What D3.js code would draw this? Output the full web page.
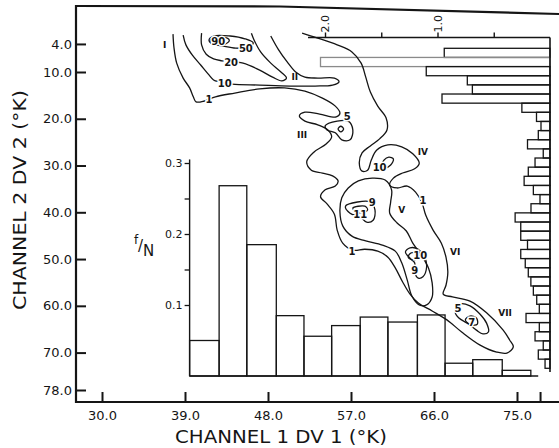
<!DOCTYPE html>
<html><head><meta charset="utf-8">
<script src="https://cdn.jsdelivr.net/npm/d3@7"></script>
<style>
body{margin:0;background:#fff}
svg{display:block}
text{font-family:"DejaVu Sans",sans-serif;fill:#151515}
</style></head><body>
<svg id="c" width="559" height="448"></svg>
<script>
// ---- axes (main panel: channel 1 DV1 vs channel 2 DV2, degrees K)
const xTicks=[30,39,48,57,66,75];
const xTickExtra=[77.5];
const yTicks=[4,10,20,30,40,50,60,70,78];

// ---- inset histogram: f/N of channel 1
const ch1BinEdges=[39.5,42.7,45.7,48.9,51.9,54.9,58.0,61.0,64.2,67.2,70.2,73.4,76.5];
const ch1Freq=[0.050,0.268,0.185,0.085,0.056,0.071,0.083,0.076,0.086,0.018,0.023,0.008];
const ch1FreqTicks=[0.1,0.15,0.2,0.25,0.3];
const ch1FreqLabels=[0.1,0.2,0.3];

// ---- right histogram: channel 2 (2 K bins)
const ch2BinStart=[5,7,9,11,13,15,17,19,21,23,25,27,29,31,33,35,37,39,41,43,45,47,49,51,53,55,57,59,61,63,65,67,69,71,73];
const ch2Freq=[0.94,2.04,1.10,0.735,0.69,0.96,0.25,0.12,0.08,0.104,0.20,0.06,0.133,0.193,0.23,0.148,0.089,0.169,0.31,0.26,0.26,0.20,0.26,0.22,0.193,0.17,0.148,0.118,0.095,0.213,0.095,0.133,0.06,0.104,0.044];
const ch2FreqTicks=[0.5,1.0,1.5,2.0];
const ch2FreqLabels=[1.0,2.0];

// ---- contours [channel1, channel2]
const contour1=[[37.7,1.9],[37.8,4.7],[38.1,8.1],[38.8,11.3],[39.5,13.4],[39.9,15.3],[40.2,16.4],[41.1,16.2],[42.3,15.3],[44.4,14.5],[47.1,13.6],[49.8,13.4],[52.0,14.1],[53.9,15.6],[55.3,17.3],[55.8,18.8],[55.4,19.6],[53.6,19.0],[52.0,18.6],[51.4,19.4],[52.0,20.5],[53.4,21.3],[54.5,22.4],[54.9,23.9],[54.3,25.4],[53.0,27.1],[52.2,29.2],[52.7,31.0],[53.9,31.6],[55.0,32.2],[55.6,33.3],[55.3,34.4],[54.2,35.2],[53.7,36.7],[54.4,38.2],[55.2,40.4],[55.5,43.8],[56.1,46.6],[57.2,48.1],[58.5,47.9],[59.9,48.3],[61.0,49.6],[61.8,51.9],[62.6,54.9],[63.4,57.5],[64.3,59.4],[65.8,61.1],[67.4,63.0],[69.0,65.6],[71.0,68.4],[72.8,69.9],[73.9,70.1],[74.6,68.8],[74.2,67.3],[73.5,65.2],[71.7,61.5],[69.9,59.0],[68.0,58.1],[67.0,57.5],[67.3,55.6],[67.5,52.8],[67.3,49.6],[66.8,46.6],[65.9,43.8],[65.1,40.6],[64.7,38.0],[64.0,35.7],[63.1,34.4],[62.0,34.8],[61.2,34.2],[61.6,32.7],[62.6,31.6],[63.9,30.7],[64.4,29.5],[63.7,27.5],[62.5,26.0],[61.0,25.6],[59.8,26.7],[59.2,28.8],[58.8,31.0],[58.2,31.2],[57.9,29.5],[58.2,27.3],[59.1,25.8],[60.1,24.3],[60.9,22.4],[60.8,19.8],[59.9,17.3],[59.1,14.3],[58.6,11.1],[58.1,8.1],[57.1,5.7],[55.5,4.2],[53.3,2.7],[51.7,1.7]];
const contour10a=[[38.8,2.1],[39.1,4.2],[39.8,6.4],[40.7,8.5],[41.5,10.4],[42.1,11.7],[42.7,12.1],[44.1,12.6],[47.1,12.8],[50.4,13.0],[53.1,13.0],[55.0,12.8],[55.7,12.1],[55.2,11.3],[53.4,11.3],[52.0,11.1],[51.0,10.0],[50.1,7.9],[49.1,5.1],[48.3,2.3]];
const contour20=[[40.8,1.7],[40.8,4.2],[41.3,6.2],[42.1,7.2],[43.0,7.6],[45.3,8.1],[47.1,9.6],[48.5,11.1],[49.5,11.9],[50.0,11.3],[49.4,10.0],[48.3,8.1],[47.2,5.7],[46.5,3.2],[46.2,1.7]];
const contour50=[[41.6,3.2],[42.1,2.3],[43.9,2.3],[45.5,2.9],[46.4,3.8],[45.8,4.7],[44.5,4.9],[43.0,4.4],[41.9,4.0]];
const contour90=[[41.7,3.4],[42.1,2.7],[43.1,2.5],[43.8,3.2],[43.4,4.0],[42.4,4.2]];
const contour5a=[[54.2,21.5],[55.5,20.5],[56.7,20.5],[57.2,22.4],[56.9,24.5],[56.0,24.5],[55.3,23.0],[54.4,22.4]];
const contour5aInner=[[55.6,22.2],[55.9,21.6],[56.2,22.2],[55.9,22.8]];
const contour10b=[[60.4,30.1],[60.6,28.8],[61.1,28.2],[61.6,28.6],[61.3,29.9],[60.7,30.5]];
const contourInner=[[60.7,33.1],[61.4,35.2],[61.3,37.8],[61.2,40.2],[62.0,42.3],[63.0,44.0],[63.7,46.6],[64.6,49.1],[65.4,51.9],[65.8,55.1],[65.8,58.1],[65.2,59.8],[64.4,59.8],[63.6,57.9],[63.1,54.5],[62.5,50.8],[61.8,48.3],[60.4,47.0],[58.6,46.1],[57.1,45.1],[56.1,42.9],[55.8,39.9],[56.0,36.9],[56.7,34.8],[57.8,33.3],[59.3,32.7]];
const contour9a=[[56.4,38.7],[57.7,37.8],[59.1,37.8],[59.6,39.5],[59.4,41.7],[58.7,42.1],[58.0,41.0],[56.9,40.2]];
const contour11=[[57.2,39.1],[58.5,38.7],[58.8,39.5],[58.1,40.2],[57.4,39.7]];
const contour9b=[[62.9,48.5],[63.4,47.6],[64.3,47.9],[65.0,49.6],[65.2,51.7],[64.8,53.8],[64.3,54.1],[63.9,52.8],[63.9,50.8],[63.4,49.8]];
const contour10c=[[63.2,49.6],[63.5,48.7],[64.2,48.7],[64.4,49.6],[63.7,50.2]];
const contour5b=[[68.3,61.3],[68.8,59.6],[69.9,60.0],[71.0,61.8],[71.7,63.7],[71.9,65.6],[71.3,66.0],[70.6,65.2],[69.6,63.7],[68.7,62.6]];
const contour7=[[69.4,63.0],[69.9,62.2],[70.6,62.6],[70.7,63.9],[70.0,64.1]];

const levelLabels=[["1",41.6,15.8],["10",43.3,12.4],["20",44.0,7.9],["50",45.6,4.9],["90",42.6,3.4],["5",56.6,19.6],["10",60.1,30.5],["9",59.3,37.8],["11",58.0,40.4],["1",64.8,37.4],["1",57.1,48.3],["10",64.5,49.3],["9",63.9,52.4],["5",68.6,60.5],["7",70.1,63.5]];
const regionLabels=[["I",36.8,4.2],["II",50.9,11.1],["III",51.7,23.5],["IV",64.8,27.1],["V",62.5,39.5],["VI",68.3,48.5],["VII",73.7,61.5]];

const svg=d3.select('#c');
const x=d3.scaleLinear().domain([30,75]).range([102,517]);
const y=d3.scaleLinear().domain([10,78]).range([72,390]);
const ink='#151515';

// frame
svg.append('path').attr('d','M76,6 L280,6.5 L559,14').attr('fill','none').attr('stroke',ink).attr('stroke-width',2.2);
svg.append('line').attr('x1',76).attr('x2',76).attr('y1',5).attr('y2',403).attr('stroke',ink).attr('stroke-width',2.2);
svg.append('line').attr('x1',75).attr('x2',559).attr('y1',402).attr('y2',402).attr('stroke',ink).attr('stroke-width',2.2);

// y axis
const gy=svg.append('g').attr('transform','translate(76,0)')
 .call(d3.axisLeft(y).tickValues(yTicks).tickSize(-10).tickPadding(4).tickFormat(d=>d.toFixed(1)));
gy.select('.domain').remove();
gy.selectAll('line').attr('stroke',ink).attr('stroke-width',2);
gy.selectAll('text').attr('font-size',13).attr('font-family','DejaVu Sans').attr('fill',ink);

// x axis
const gx=svg.append('g').attr('transform','translate(0,402)')
 .call(d3.axisBottom(x).tickValues(xTicks.concat(xTickExtra)).tickSize(-10).tickPadding(9)
   .tickFormat(d=>xTicks.includes(d)?d.toFixed(1):''));
gx.select('.domain').remove();
gx.selectAll('line').attr('stroke',ink).attr('stroke-width',2);
gx.selectAll('text').attr('font-size',13).attr('font-family','DejaVu Sans').attr('fill',ink);

// axis titles
svg.append('text').attr('x',175).attr('y',443).attr('font-size',17)
 .attr('textLength',212).attr('lengthAdjust','spacingAndGlyphs').text('CHANNEL 1 DV 1 (°K)');
svg.append('text').attr('transform','translate(26,310) rotate(-90)').attr('font-size',17)
 .attr('textLength',220).attr('lengthAdjust','spacingAndGlyphs').text('CHANNEL 2 DV 2 (°K)');

// ---- right histogram
const xr=d3.scaleLinear().domain([0,2]).range([550,325]);
const yh=d3.scaleLinear().domain([5,75]).range([48.3,368.3]);
svg.append('g').selectAll('rect').data(ch2Freq).join('rect')
 .attr('x',d=>xr(d)).attr('width',d=>xr(0)-xr(d))
 .attr('y',(d,i)=>yh(ch2BinStart[i])).attr('height',(d,i)=>yh(ch2BinStart[i]+2)-yh(ch2BinStart[i]))
 .attr('fill','none').attr('stroke',(d,i)=>i===1?'#8a8a8a':ink).attr('stroke-width',1.3);
svg.append('line').attr('x1',xr(0)).attr('x2',xr(0)).attr('y1',37.5).attr('y2',372).attr('stroke',ink).attr('stroke-width',1.6);
svg.append('line').attr('x1',308).attr('x2',xr(0)).attr('y1',37.5).attr('y2',37.5).attr('stroke',ink).attr('stroke-width',1.4);
const gr=svg.append('g').attr('transform','translate(0,37.5)')
 .call(d3.axisTop(xr).tickValues(ch2FreqTicks).tickSize(5)
   .tickFormat(d=>ch2FreqLabels.includes(d)?d.toFixed(1):''));
gr.select('.domain').remove();
gr.selectAll('line').attr('stroke',ink).attr('stroke-width',1.4);
gr.selectAll('text').attr('font-size',11).attr('font-family','DejaVu Sans').attr('fill',ink)
 .attr('text-anchor','start').attr('transform','rotate(-90)').attr('x',5).attr('y',0).attr('dy','0.35em');

// ---- inset histogram
const yf=d3.scaleLinear().domain([0,0.3]).range([376,163]);
svg.append('g').selectAll('rect').data(ch1Freq).join('rect')
 .attr('x',(d,i)=>x(ch1BinEdges[i])).attr('width',(d,i)=>x(ch1BinEdges[i+1])-x(ch1BinEdges[i]))
 .attr('y',d=>yf(d)).attr('height',d=>yf(0)-yf(d))
 .attr('fill','none').attr('stroke',ink).attr('stroke-width',1.3);
svg.append('line').attr('x1',x(ch1BinEdges[0])).attr('x2',x(77.3)).attr('y1',yf(0)).attr('y2',yf(0)).attr('stroke',ink).attr('stroke-width',1.4);
svg.append('line').attr('x1',x(ch1BinEdges[0])).attr('x2',x(ch1BinEdges[0])).attr('y1',yf(0)).attr('y2',yf(0.305)).attr('stroke',ink).attr('stroke-width',1.4);
const gf=svg.append('g').attr('transform',`translate(${x(ch1BinEdges[0])},0)`)
 .call(d3.axisLeft(yf).tickValues(ch1FreqTicks).tickSize(5).tickPadding(2)
   .tickFormat(d=>ch1FreqLabels.some(v=>Math.abs(v-d)<1e-9)?d.toFixed(1):''));
gf.select('.domain').remove();
gf.selectAll('line').attr('stroke',ink).attr('stroke-width',1.3);
gf.selectAll('text').attr('font-size',11).attr('font-family','DejaVu Sans').attr('fill',ink);
svg.append('text').attr('x',134).attr('y',244).attr('font-size',12).text('f');
svg.append('text').attr('x',138).attr('y',251).attr('font-size',15).text('/');
svg.append('text').attr('x',143).attr('y',256).attr('font-size',15).text('N');

// ---- contours
const lineOpen=d3.line().x(d=>x(d[0])).y(d=>y(d[1])).curve(d3.curveCatmullRom.alpha(0.5));
const lineClosed=d3.line().x(d=>x(d[0])).y(d=>y(d[1])).curve(d3.curveCatmullRomClosed.alpha(0.5));
const gc=svg.append('g').attr('fill','none').attr('stroke',ink).attr('stroke-width',1.3);
[contour1,contour10a,contour20].forEach(c=>gc.append('path').attr('d',lineOpen(c)));
[contour50,contour90,contour5a,contour5aInner,contour10b,contourInner,contour9a,contour11,contour9b,contour10c,contour5b,contour7]
 .forEach(c=>gc.append('path').attr('d',lineClosed(c)));

svg.append('g').selectAll('text').data(levelLabels).join('text')
 .attr('x',d=>x(d[1])).attr('y',d=>y(d[2])).attr('dy','0.35em').attr('text-anchor','middle')
 .attr('font-size',10).attr('font-weight','bold').attr('stroke','#fff').attr('stroke-width',3)
 .attr('paint-order','stroke').text(d=>d[0]);
svg.append('g').selectAll('text').data(regionLabels).join('text')
 .attr('x',d=>x(d[1])).attr('y',d=>y(d[2])).attr('dy','0.35em').attr('text-anchor','middle')
 .attr('font-size',9).attr('font-weight','bold').text(d=>d[0]);
</script></body></html>
